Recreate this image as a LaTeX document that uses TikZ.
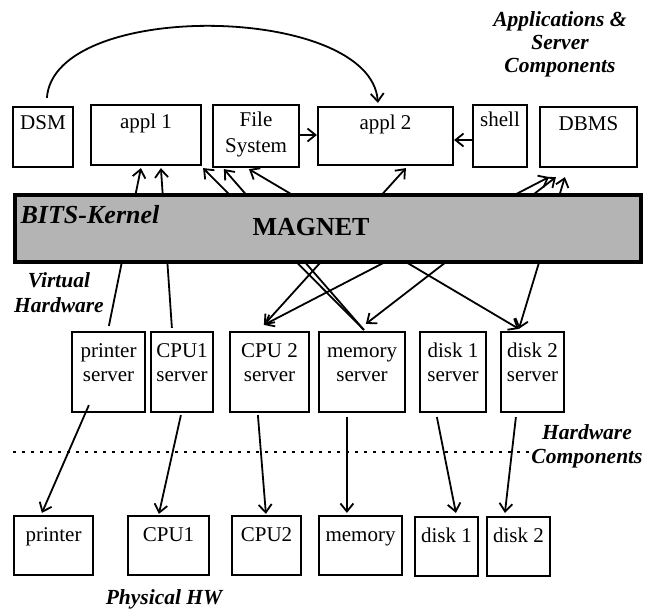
\documentclass[tikz,border=0pt]{standalone}
\usepackage{fontspec}
\setmainfont{Liberation Serif}
\usetikzlibrary{arrows.meta,calc}
\definecolor{kgray}{RGB}{180,180,180}
\newcommand\myNormal{\fontsize{21bp}{24bp}\selectfont}
\newcommand\myLabel{\fontsize{21.5bp}{23bp}\selectfont\bfseries\itshape}
\newcommand\myBig{\fontsize{26bp}{30bp}\selectfont\bfseries}
\begin{document}
\begin{tikzpicture}[x=1bp,y=-1bp,
  box/.style={draw, line width=2.2bp, inner sep=0pt, align=center, font=\myNormal},
  srv/.style={box, minimum height=80bp, text height=49bp, text depth=31bp},
  phy/.style={box, minimum height=59bp, text height=25bp, text depth=34bp},
  link/.style={line width=1.8bp},
  lbl/.style={font=\myLabel, align=center, inner sep=0pt, anchor=base},
  >={Straight Barb[length=8bp,width=13bp]}]
\useasboundingbox (0,0) rectangle (652,609);

% top row
\node[box, minimum width=60bp, minimum height=60bp, text height=23bp, text depth=37bp] (dsm) at (43,137) {DSM};
\node[box, minimum width=110bp, minimum height=60bp, text height=24bp, text depth=36bp] (appl1) at (146,135) {appl 1};
\node[box, minimum width=86bp, minimum height=62bp, text height=48bp, text depth=14bp] (fs) at (256,136) {File\\[2bp]System};
\node[box, minimum width=135bp, minimum height=58bp, text height=23bp, text depth=35bp] (appl2) at (385.5,136) {appl 2};
\node[box, minimum width=54bp, minimum height=62bp, text height=22bp, text depth=40bp] (shell) at (500,136) {shell};
\node[box, minimum width=97bp, minimum height=60bp, text height=24bp, text depth=36bp] (dbms) at (588.5,137) {DBMS};

% servers
\node[srv, minimum width=73bp] (psrv) at (108.5,372) {printer\\server};
\node[srv, minimum width=62bp] (c1srv) at (182,372) {CPU1\\server};
\node[srv, minimum width=79bp] (c2srv) at (269.5,372) {CPU 2\\server};
\node[srv, minimum width=86bp] (msrv) at (362,372) {memory\\server};
\node[srv, minimum width=66bp] (d1srv) at (453,372) {disk 1\\server};
\node[srv, minimum width=63bp] (d2srv) at (532.5,372) {disk 2\\server};

% physical hardware
\node[phy, minimum width=79bp] (prn) at (53.5,545.5) {printer};
\node[phy, minimum width=81bp] (cpu1) at (168.5,545.5) {CPU1};
\node[phy, minimum width=69bp] (cpu2) at (266.5,545.5) {CPU2};
\node[phy, minimum width=83bp] (mem) at (360.5,545.5) {memory};
\node[phy, minimum width=63bp] (disk1) at (446.5,546.5) {disk 1};
\node[phy, minimum width=63bp] (disk2) at (518.5,546.5) {disk 2};

% arc DSM -> appl 2
\draw[link,->] ($(dsm.north west)+(35,-8)$) .. controls +(7,-99) and +(-7,-99) .. ($(appl2.north west)+(61,-3)$);

% horizontal arrows
\draw[link,->] (fs.east |- 0,135) -- (appl2.west |- 0,135);
\draw[link,->] (shell.west |- 0,140) -- (appl2.east |- 0,140);

% connectors through the kernel
\draw[link,->] ($(psrv.north west)+(38,-5)$) -- ($(appl1.south west)+(51,2)$);
\draw[link,->] ($(c1srv.north west)+(22,-3)$) -- ($(appl1.south west)+(71,2)$);
\draw[link,->] ($(msrv.north west)+(46,-1)$) -- ($(appl1.south east)+(1,2)$);
\draw[link,->] ($(msrv.north west)+(46,-1)$) -- ($(fs.south west)+(12,1)$);
\draw[link,<->] ($(fs.south west)+(37,1)$) -- ($(d2srv.north west)+(19,-2)$);
\draw[link,<->] ($(appl2.south west)+(89,2)$) -- ($(c2srv.north west)+(35,-6)$);
\draw[link,<->] ($(dbms.south west)+(10,9)$) -- ($(c2srv.north west)+(35,-6)$);
\draw[link,<->] ($(dbms.south west)+(17,9)$) -- ($(msrv.north west)+(48,-7)$);
\draw[link,<->] ($(dbms.south west)+(26,9)$) -- ($(d2srv.north west)+(19,-2)$);

% servers -> physical
\draw[link,->] ($(psrv.south west)+(18,-8)$) -- ($(prn.north west)+(29,-2)$);
\draw[link,->] ($(c1srv.south west)+(31,2)$) -- ($(cpu1.north west)+(32,-1)$);
\draw[link,->] ($(c2srv.south west)+(29,2)$) -- ($(cpu2.north west)+(35,-1)$);
\draw[link,->] ($(msrv.south west)+(29,4)$) -- ($(mem.north west)+(29,-2)$);
\draw[link,->] ($(d1srv.south west)+(18,4)$) -- ($(disk1.north west)+(42,-3)$);
\draw[link,->] ($(d2srv.south west)+(16,4)$) -- ($(disk2.north west)+(19,-3)$);

% kernel bar
\node[draw, line width=4.5bp, fill=kgray, inner sep=0pt, minimum width=626bp, minimum height=67bp] (kernel) at (328,228.5) {};
\node[font=\myBig\itshape, inner sep=0pt, anchor=base] (bits) at (90,223) {BITS-Kernel};
\node[font=\myBig, inner sep=0pt, anchor=base] (magnet) at (311,235) {MAGNET};

% dotted separator
\coordinate (dl) at (13,452);
\coordinate (dr) at (531,452);
\draw[line width=2.4bp, dash pattern=on 2.5bp off 6.5bp] (dl) -- (dr);

% labels
\node[lbl] (apps) at (560,73) {Applications \&\\Server\\Components};
\node[lbl, font=\fontsize{21.5bp}{25bp}\selectfont\bfseries\itshape] (virt) at (59,312) {Virtual\\Hardware};
\node[lbl, font=\fontsize{21.5bp}{24bp}\selectfont\bfseries\itshape] (hwc) at (587,463) {Hardware\\Components};
\node[lbl] (phys) at (164,604) {Physical HW};
\end{tikzpicture}
\end{document}
